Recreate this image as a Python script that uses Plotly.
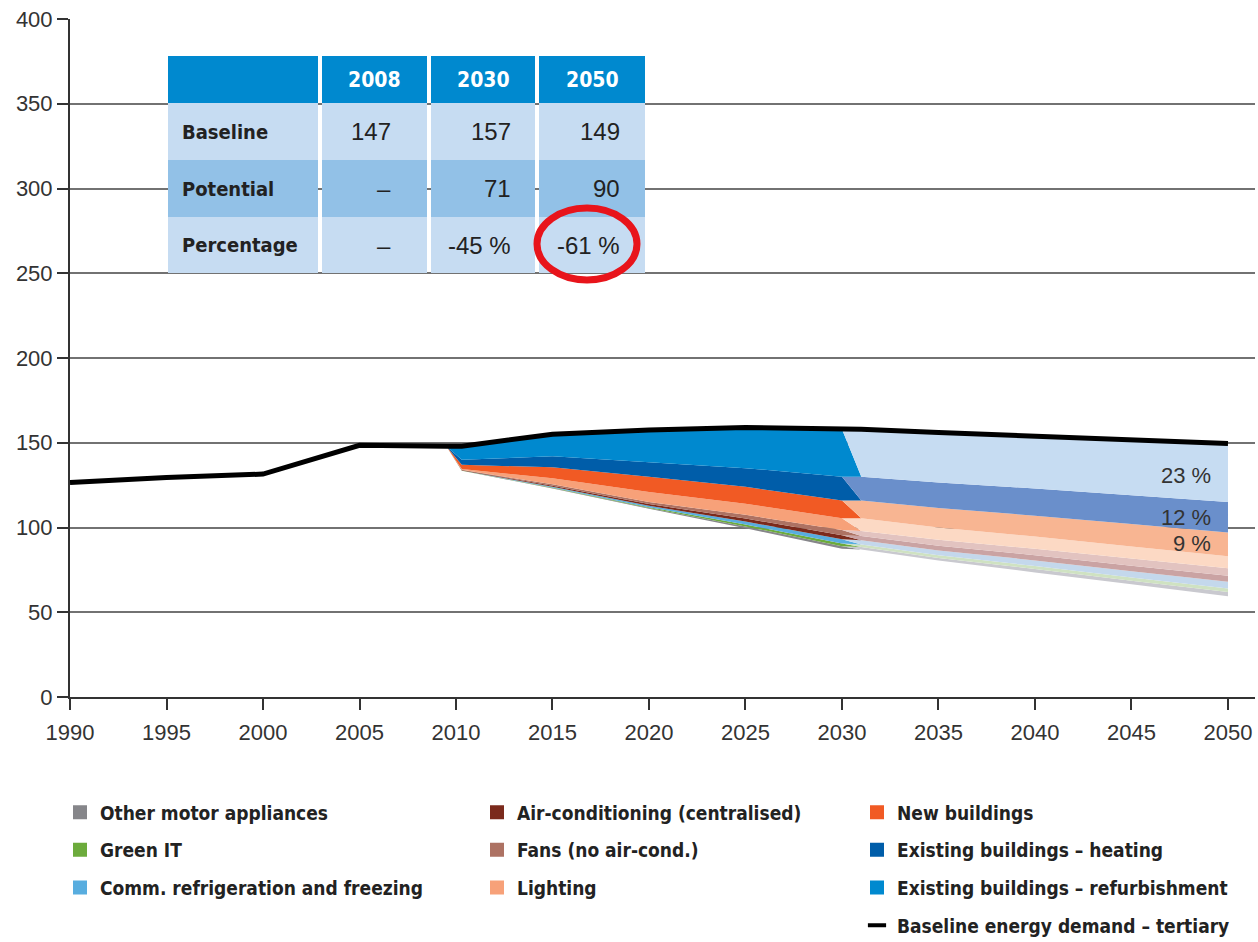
import plotly.graph_objects as go

# ---------------- data ----------------
baseline_years = [1990, 1995, 2000, 2005, 2009.5, 2010.3, 2015, 2020, 2025, 2030, 2031, 2035, 2040, 2045, 2050]
baseline_vals = [126.5, 129.5, 131.5, 148.5, 148.0, 148.0, 155.0, 157.5, 159.0, 158.0, 158.0, 156.0, 154.0, 152.0, 149.5]

stack_years = [2009.5, 2010.3, 2015, 2020, 2025, 2030, 2031, 2035, 2040, 2045, 2050]
remaining = [148.0, 133.5, 123.0, 111.0, 99.5, 87.5, 87.0, 80.5, 73.5, 66.5, 59.5]

# savings by measure up to 2030 (strong colours) and 2031-2050 (pale colours)
other_motor_a = [0, 0.05, 0.3, 0.5, 1.1, 1.5, 0, 0, 0, 0, 0]
other_motor_b = [0, 0, 0, 0, 0, 0, 1.5, 1.5, 2.0, 2.1, 2.5]
green_it_a = [0, 0.05, 0.3, 0.5, 1.1, 1.5, 0, 0, 0, 0, 0]
green_it_b = [0, 0, 0, 0, 0, 0, 1.5, 1.6, 1.8, 1.9, 2.0]
refrig_a = [0, 0.1, 0.5, 0.8, 1.8, 2.5, 0, 0, 0, 0, 0]
refrig_b = [0, 0, 0, 0, 0, 0, 2.5, 2.9, 3.3, 3.7, 4.0]
aircon_a = [0, 0.2, 0.6, 1.0, 1.8, 2.5, 0, 0, 0, 0, 0]
aircon_b = [0, 0, 0, 0, 0, 0, 2.5, 2.8, 3.1, 3.3, 3.5]
fans_a = [0, 0.2, 0.8, 1.2, 2.2, 3.0, 0, 0, 0, 0, 0]
fans_b = [0, 0, 0, 0, 0, 0, 3.0, 3.4, 3.8, 4.2, 4.5]
lighting_a = [0, 0.4, 3.5, 6.0, 6.5, 7.0, 0, 0, 0, 0, 0]
lighting_b = [0, 0, 0, 0, 0, 0, 7.5, 7.3, 7.2, 7.1, 7.0]
new_build_a = [0, 2.5, 6.5, 9.0, 10.0, 10.5, 0, 0, 0, 0, 0]
new_build_b = [0, 0, 0, 0, 0, 0, 10.5, 11.5, 12.3, 13.2, 14.0]
heating_a = [0, 3.0, 6.5, 8.5, 11.0, 14.0, 0, 0, 0, 0, 0]
heating_b = [0, 0, 0, 0, 0, 0, 14.0, 15.0, 16.0, 17.0, 18.0]
refurb_a = [0, 8.0, 13.0, 19.0, 24.0, 28.0, 0, 0, 0, 0, 0]
refurb_b = [0, 0, 0, 0, 0, 0, 28.0, 29.5, 31.0, 33.0, 34.5]

share_labels = ["23 %", "12 %", "9 %"]
share_y = [130.5, 106.0, 90.5]

table_header = ["", "2008", "2030", "2050"]
table_rows = ["Baseline", "Potential", "Percentage"]
table_2008 = ["147", "–", "–"]
table_2030 = ["157", "71", "-45 %"]
table_2050 = ["149", "90", "-61 %"]

x_ticks = list(range(1990, 2051, 5))
y_ticks = list(range(0, 401, 50))

# ---------------- styles ----------------
layers = [
    ("Other motor appliances", other_motor_a, other_motor_b, "#86868a", "#c9c9cf", "legend"),
    ("Green IT", green_it_a, green_it_b, "#6cab3c", "#cfe2c2", "legend"),
    ("Comm. refrigeration and freezing", refrig_a, refrig_b, "#58addf", "#c4d8ec", "legend"),
    ("Air-conditioning (centralised)", aircon_a, aircon_b, "#7b2a1c", "#caa3a3", "legend2"),
    ("Fans (no air-cond.)", fans_a, fans_b, "#ad7263", "#e2c3c0", "legend2"),
    ("Lighting", lighting_a, lighting_b, "#f7a179", "#fcd9c4", "legend2"),
    ("New buildings", new_build_a, new_build_b, "#f15a24", "#f8b592", "legend3"),
    ("Existing buildings – heating", heating_a, heating_b, "#005da9", "#6a8fcb", "legend3"),
    ("Existing buildings – refurbishment", refurb_a, refurb_b, "#0089cf", "#c6dcf2", "legend3"),
]

AX = "#333333"
L, R, T, B = 70, 1255, 19, 697          # plot area in pixels
W, H = R - L, B - T


def px_x(p):
    return (p - L) / W


def px_y(p):
    return (B - p) / H


TICKFONT = dict(family="Liberation Sans, Arial", size=22, color=AX)
LEGFONT = dict(family="DejaVu Sans Condensed, Arial", size=19, color="#222222", weight="bold")
CONDB = "DejaVu Sans Condensed, Arial"

fig = go.Figure()

# invisible base (remaining demand)
fig.add_trace(go.Scatter(x=stack_years, y=remaining, stackgroup="s", mode="none",
                         fillcolor="rgba(0,0,0,0)", showlegend=False, hoverinfo="skip"))
for name, a, b, ca, cb, lg in layers:
    fig.add_trace(go.Scatter(x=stack_years, y=a, stackgroup="s", mode="none", fillcolor=ca,
                             showlegend=False, name=name))
    fig.add_trace(go.Scatter(x=stack_years, y=b, stackgroup="s", mode="none", fillcolor=cb,
                             showlegend=False, name=name))

fig.add_trace(go.Scatter(x=baseline_years, y=baseline_vals, mode="lines",
                         line=dict(color="black", width=5), showlegend=False,
                         name="Baseline energy demand – tertiary"))

# legend entries
for name, a, b, ca, cb, lg in layers:
    fig.add_trace(go.Scatter(x=[None], y=[None], mode="markers", name=name, legend=lg,
                             legendgroup=name,
                             marker=dict(symbol="square", size=14, color=ca)))
fig.add_trace(go.Scatter(x=[None], y=[None], mode="markers", name="Baseline energy demand – tertiary",
                         legend="legend3", legendgroup="base",
                         marker=dict(symbol="line-ew", size=13, line=dict(width=4, color="black"))))

# ---------------- table (shapes + annotations) ----------------
col_edges = [(168, 318), (322, 427), (431, 535), (539, 645)]
row_edges = [(56, 103), (103, 160), (160, 217), (217, 273)]
row_fill = ["#c6dcf2", "#92c1e7", "#c6dcf2"]
value_right = [393, 513, 622]
HEAD = "#0089cf"

for ci, (x0, x1) in enumerate(col_edges):
    fig.add_shape(type="rect", xref="paper", yref="paper", x0=px_x(x0), x1=px_x(x1),
                  y0=px_y(row_edges[0][1]), y1=px_y(row_edges[0][0]),
                  fillcolor=HEAD, line=dict(width=0), layer="above")
    for ri in range(3):
        y0, y1 = row_edges[ri + 1]
        fig.add_shape(type="rect", xref="paper", yref="paper", x0=px_x(x0), x1=px_x(x1),
                      y0=px_y(y1), y1=px_y(y0), fillcolor=row_fill[ri], line=dict(width=0), layer="above")

hy = px_y((row_edges[0][0] + row_edges[0][1]) / 2)
for ci in range(1, 4):
    x0, x1 = col_edges[ci]
    fig.add_annotation(xref="paper", yref="paper", x=px_x((x0 + x1) / 2), y=hy, text=table_header[ci],
                       showarrow=False, xanchor="center", yanchor="middle",
                       font=dict(family=CONDB, size=21, color="white", weight="bold"))

for ri in range(3):
    cy = px_y((row_edges[ri + 1][0] + row_edges[ri + 1][1]) / 2)
    fig.add_annotation(xref="paper", yref="paper", x=px_x(180), y=cy, text=table_rows[ri],
                       showarrow=False, xanchor="left", yanchor="middle",
                       font=dict(family=CONDB, size=20, color="#222222", weight="bold"))
    for vals, xr in zip([table_2008, table_2030, table_2050], value_right):
        fig.add_annotation(xref="paper", yref="paper", x=px_x(xr), y=cy, text=vals[ri],
                           showarrow=False, xanchor="right", yanchor="middle",
                           font=dict(family="Liberation Sans, Arial", size=24, color="#222222"))

for t, yv in zip(share_labels, share_y):
    fig.add_annotation(x=2049.2, y=yv, text=t, showarrow=False, xanchor="right", yanchor="middle",
                       font=dict(family="Liberation Sans, Arial", size=22, color="#333333"))

fig.add_shape(type="circle", xref="paper", yref="paper", x0=px_x(537), x1=px_x(637),
              y0=px_y(280), y1=px_y(208), line=dict(color="#e8141b", width=7), layer="above")

fig.update_layout(
    width=1258, height=942,
    margin=dict(l=L, r=1258 - R, t=T, b=942 - B, autoexpand=False),
    paper_bgcolor="white", plot_bgcolor="white",
    xaxis=dict(range=[1990, 2051.4], tickvals=x_ticks, showgrid=False, zeroline=False, automargin=False,
               showline=True, linecolor=AX, linewidth=2, ticks="outside", ticklen=11, tickwidth=2,
               tickcolor=AX, tickfont=TICKFONT, ticklabelstandoff=4),
    yaxis=dict(range=[0, 400], tickvals=y_ticks, showgrid=True, gridcolor="#727272", gridwidth=1.5,
               zeroline=False, showline=True, linecolor=AX, linewidth=2, ticks="outside", ticklen=11,
               tickwidth=2, tickcolor=AX, tickfont=TICKFONT, automargin=False, ticklabelstandoff=0),
    legend=dict(x=px_x(60), y=-0.142, xanchor="left", yanchor="top", font=LEGFONT, tracegroupgap=10,
                bgcolor="rgba(0,0,0,0)"),
    legend2=dict(x=px_x(477), y=-0.142, xanchor="left", yanchor="top", font=LEGFONT, tracegroupgap=10,
                 bgcolor="rgba(0,0,0,0)"),
    legend3=dict(x=px_x(857), y=-0.142, xanchor="left", yanchor="top", font=LEGFONT, tracegroupgap=10,
                 bgcolor="rgba(0,0,0,0)"),
)

fig.write_html("out.html", config={"displayModeBar": False},
               post_script="document.body.style.margin='0px';document.body.style.overflow='hidden';")
